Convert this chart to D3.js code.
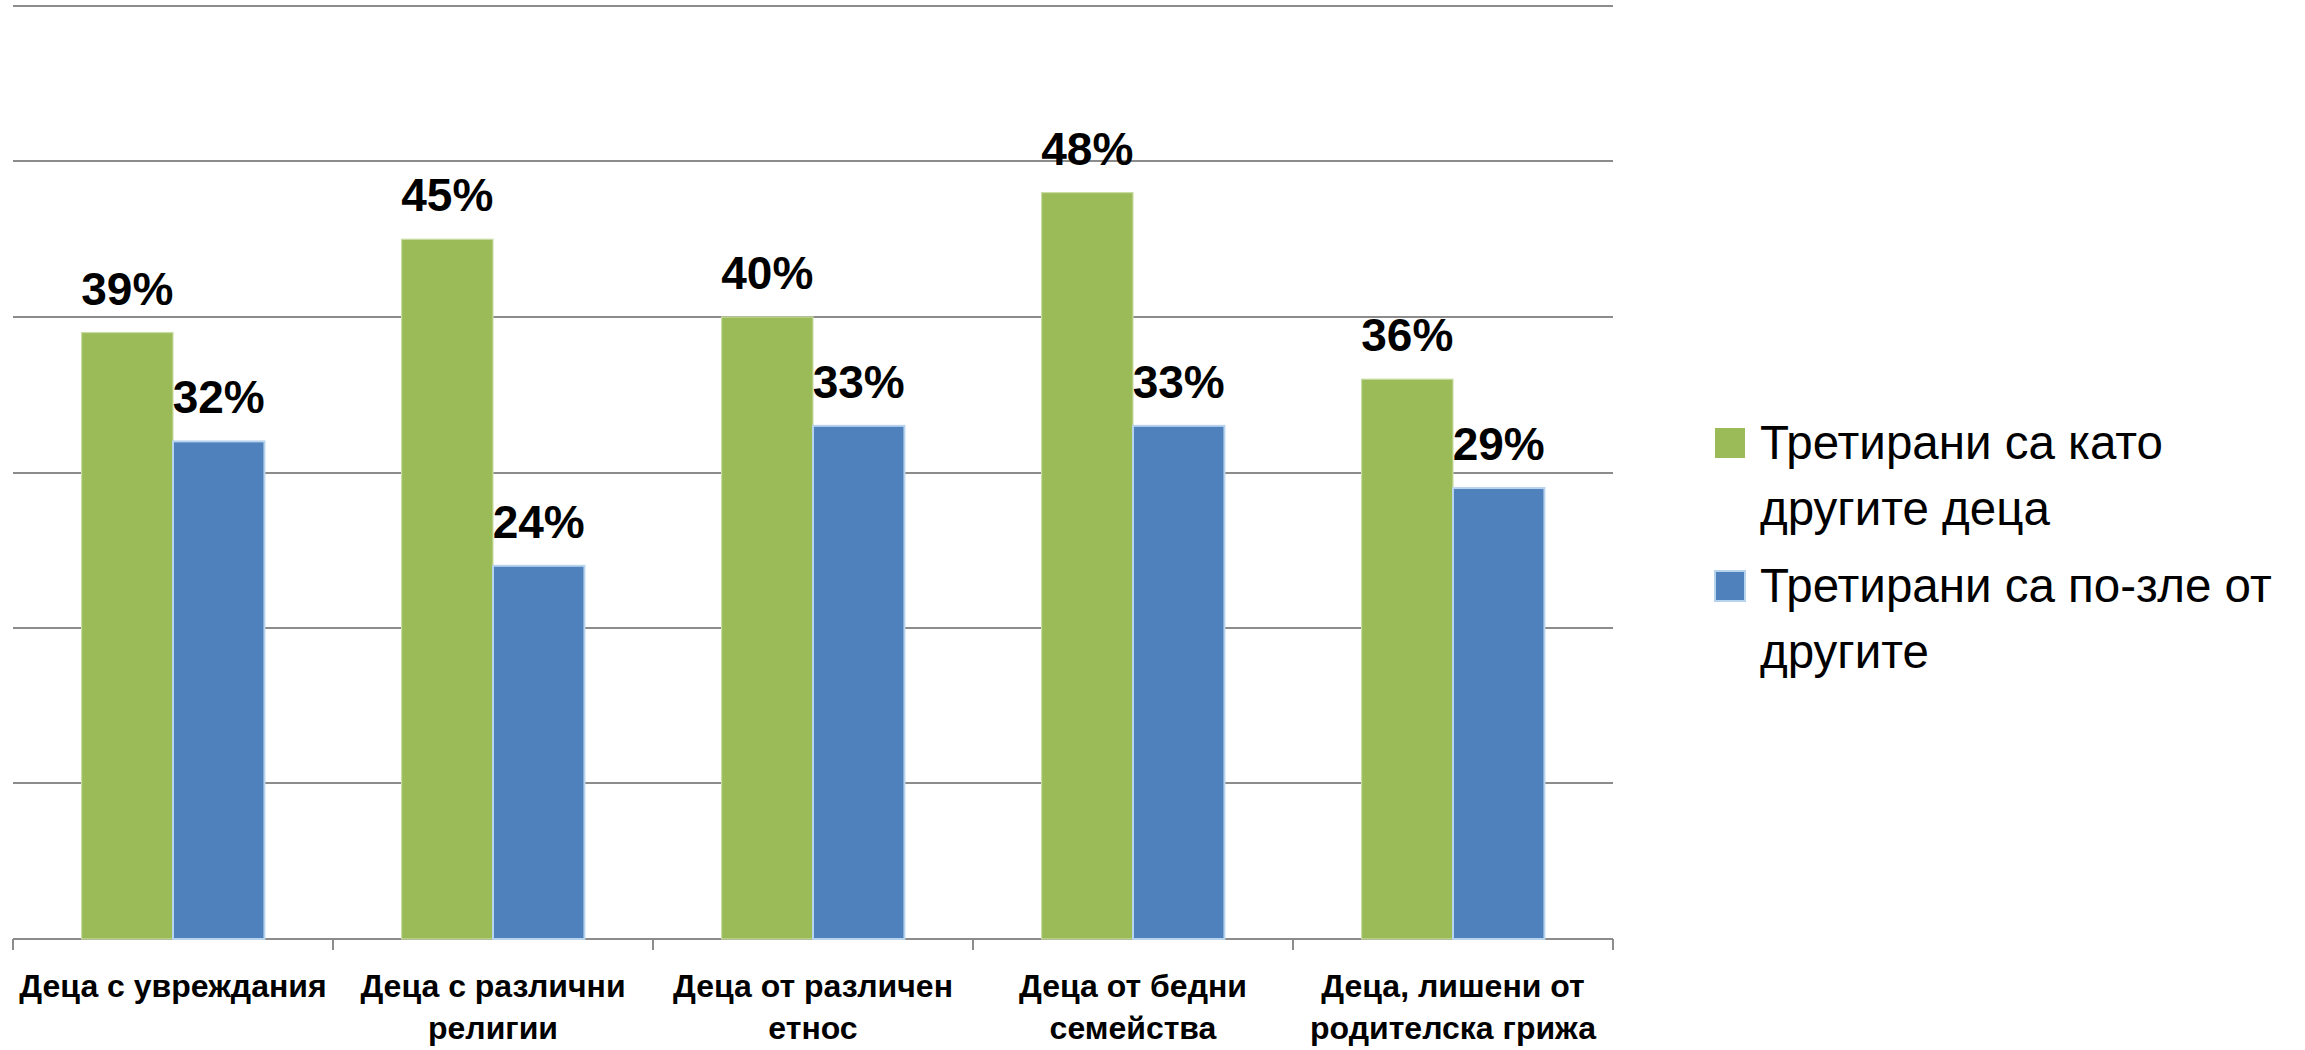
<!DOCTYPE html>
<html>
<head>
<meta charset="utf-8">
<script src="https://cdn.jsdelivr.net/npm/d3@7"></script>
<style>
  html, body { margin: 0; padding: 0; background: #fff; }
  .grid line { stroke: #8c8c8c; stroke-width: 2; }
  .value-label { font-family: "Liberation Sans", Arial, sans-serif; font-weight: bold; font-size: 46px; fill: #000; }
  .cat-label { font-family: "Liberation Sans", Arial, sans-serif; font-weight: bold; font-size: 32px; fill: #000; }
  .legend-label { font-family: "Liberation Sans", Arial, sans-serif; font-size: 47.5px; fill: #000; }
</style>
</head>
<body>
<div id="chart"></div>
<script>
// chart data
var categories = [
  "Деца с увреждания",
  "Деца с различни\nрелигии",
  "Деца от различен\nетнос",
  "Деца от бедни\nсемейства",
  "Деца, лишени от\nродителска грижа"
];
var seriesNames = ["Третирани са като\nдругите деца", "Третирани са по-зле от\nдругите"];
var sameAsOthers = [0.39, 0.45, 0.40, 0.48, 0.36];
var worseThanOthers = [0.32, 0.24, 0.33, 0.33, 0.29];
var yTicks = [0, 0.1, 0.2, 0.3, 0.4, 0.5, 0.6];

var colours = ["#9bbb59", "#4f81bd"];
var strokes = ["#c9dca4", "#b7d3ee"];

var width = 2305, height = 1050;
var plot = {left: 13, right: 1613, top: 6, bottom: 939};

var svg = d3.select("#chart").append("svg")
  .attr("width", width)
  .attr("height", height)
  .style("display", "block");

var x0 = d3.scaleBand()
  .domain(categories)
  .range([plot.left, plot.right])
  .padding(0);

var x1 = d3.scaleBand()
  .domain([0, 1])
  .range([0, x0.bandwidth()])
  .paddingInner(0)
  .paddingOuter(0.75);

var y = d3.scaleLinear()
  .domain([0, 0.6])
  .range([plot.bottom, plot.top]);

// horizontal gridlines
svg.append("g")
  .attr("class", "grid")
  .selectAll("line")
  .data(yTicks)
  .enter().append("line")
    .attr("x1", plot.left)
    .attr("x2", plot.right)
    .attr("y1", d => Math.round(y(d)))
    .attr("y2", d => Math.round(y(d)));

// category axis with tick marks between groups
var xAxis = d3.axisBottom(x0).tickSize(0).tickFormat("");
var axisG = svg.append("g")
  .attr("transform", "translate(0," + plot.bottom + ")")
  .call(xAxis);
axisG.select(".domain").remove();

var boundaries = d3.range(categories.length + 1).map(i => plot.left + i * x0.step());
axisG.selectAll("line.cat-tick")
  .data(boundaries)
  .enter().append("line")
    .attr("class", "cat-tick")
    .attr("x1", d => d).attr("x2", d => d)
    .attr("y1", 0).attr("y2", 11)
    .attr("stroke", "#8c8c8c")
    .attr("stroke-width", 2);

// bars
var rows = categories.map((c, i) => ({cat: c, values: [sameAsOthers[i], worseThanOthers[i]]}));

var groups = svg.append("g")
  .selectAll("g")
  .data(rows)
  .enter().append("g")
    .attr("transform", d => "translate(" + x0(d.cat) + ",0)");

groups.selectAll("rect")
  .data(d => d.values.map((v, s) => ({s: s, v: v})))
  .enter().append("rect")
    .attr("x", d => x1(d.s))
    .attr("y", d => y(d.v))
    .attr("width", x1.bandwidth())
    .attr("height", d => y(0) - y(d.v))
    .attr("fill", d => colours[d.s])
    .attr("stroke", d => strokes[d.s])
    .attr("stroke-width", d => d.s === 1 ? 2 : 1.2);

groups.selectAll("text")
  .data(d => d.values.map((v, s) => ({s: s, v: v})))
  .enter().append("text")
    .attr("class", "value-label")
    .attr("x", d => x1(d.s) + x1.bandwidth() / 2)
    .attr("y", d => y(d.v) - 28)
    .attr("text-anchor", "middle")
    .text(d => d3.format(".0%")(d.v));

// category labels
var catLabels = svg.append("g")
  .selectAll("text")
  .data(categories)
  .enter().append("text")
    .attr("class", "cat-label")
    .attr("text-anchor", "middle")
    .attr("x", d => x0(d) + x0.bandwidth() / 2)
    .attr("y", 997);

catLabels.selectAll("tspan")
  .data(d => d.split("\n"))
  .enter().append("tspan")
    .attr("x", function () { return d3.select(this.parentNode).attr("x"); })
    .attr("dy", (d, i) => i === 0 ? 0 : 42)
    .text(d => d);

// legend
var legend = svg.append("g")
  .attr("transform", "translate(1715,0)");

var legendItems = legend.selectAll("g")
  .data(seriesNames)
  .enter().append("g")
    .attr("transform", (d, i) => "translate(0," + (i * 143) + ")");

legendItems.append("rect")
  .attr("x", 0)
  .attr("y", 428)
  .attr("width", 30)
  .attr("height", 30)
  .attr("fill", (d, i) => colours[i])
  .attr("stroke", (d, i) => i === 1 ? strokes[1] : "none")
  .attr("stroke-width", 2);

var legendText = legendItems.append("text")
  .attr("class", "legend-label")
  .attr("x", 45)
  .attr("y", 459);

legendText.selectAll("tspan")
  .data(d => d.split("\n"))
  .enter().append("tspan")
    .attr("x", 45)
    .attr("dy", (d, i) => i === 0 ? 0 : 66)
    .text(d => d);
</script>
</body>
</html>
